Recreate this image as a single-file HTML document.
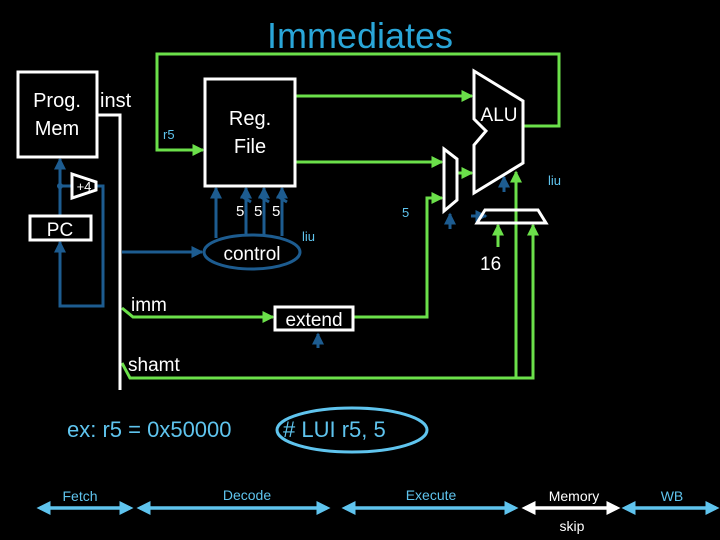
<!DOCTYPE html>
<html><head><style>
html,body{margin:0;padding:0;background:#000;}
svg{display:block;}
text{font-family:"Liberation Sans",sans-serif;}
</style></head><body>
<svg width="720" height="540" viewBox="0 0 720 540" xmlns="http://www.w3.org/2000/svg">
<defs>
<marker id="g" markerWidth="4" markerHeight="4" refX="3.5" refY="2" orient="auto" markerUnits="strokeWidth"><path d="M0,0 L4,2 L0,4 z" fill="#6be04a"/></marker>
<marker id="b" markerWidth="4" markerHeight="4" refX="3.5" refY="2" orient="auto" markerUnits="strokeWidth"><path d="M0,0 L4,2 L0,4 z" fill="#1d5c90"/></marker>
<marker id="lb" markerWidth="4" markerHeight="4" refX="3" refY="2" orient="auto-start-reverse" markerUnits="strokeWidth"><path d="M0,0 L4,2 L0,4 z" fill="#5fc4ee"/></marker>
<marker id="w" markerWidth="4" markerHeight="4" refX="3" refY="2" orient="auto-start-reverse" markerUnits="strokeWidth"><path d="M0,0 L4,2 L0,4 z" fill="#fff"/></marker>
</defs>
<text x="360" y="48" text-anchor="middle" font-size="36" fill="#2aa6d8">Immediates</text>

<!-- green wires -->
<g stroke="#6be04a" stroke-width="3" fill="none">
<polyline points="523,126 559,126 559,54 157,54 157,150 203,150" marker-end="url(#g)"/>
<polyline points="295,96 472,96" marker-end="url(#g)"/>
<polyline points="295,162 442,162" marker-end="url(#g)"/>
<polyline points="457,173 472,173" marker-end="url(#g)"/>
<polyline points="353,317 427,317 427,198 442,198" marker-end="url(#g)"/>
<polyline points="122,308 133,317 273,317" marker-end="url(#g)"/>
<polyline points="122,363 130,378 533,378 533,225" marker-end="url(#g)"/>
<polyline points="516,378 516,172" marker-end="url(#g)"/>
<polyline points="498,247 498,225" marker-end="url(#g)"/>
</g>

<!-- blue wires -->
<g stroke="#1d5c90" stroke-width="3" fill="none">
<polyline points="60,216 60,159" marker-end="url(#b)"/>
<polyline points="60,186 72,186"/>
<polyline points="96,186 103,186 103,306 60,306 60,242" marker-end="url(#b)"/>
<polyline points="122,252 202,252" marker-end="url(#b)"/>
<polyline points="216,238 216,188" marker-end="url(#b)"/>
<polyline points="246,236 246,188" marker-end="url(#b)"/>
<polyline points="264,235 264,188" marker-end="url(#b)"/>
<polyline points="282,236 282,188" marker-end="url(#b)"/>
<line x1="241" y1="196" x2="251" y2="202"/><line x1="259" y1="196" x2="269" y2="202"/><line x1="277" y1="196" x2="287" y2="202"/>
<polyline points="450,229 450,214" marker-end="url(#b)"/>
<polyline points="471,216 486,216" marker-end="url(#b)"/>
<polyline points="504,192 504,177" marker-end="url(#b)"/>
<polyline points="318,348 318,334" marker-end="url(#b)"/>
<ellipse cx="252" cy="252" rx="48" ry="17"/>
</g>
<circle cx="60" cy="186" r="3" fill="#1d5c90"/>

<!-- white stuff -->
<g stroke="#fff" stroke-width="3" fill="none">
<polyline points="97,115 120,115 120,390"/>
<rect x="18" y="72" width="79" height="85"/>
<rect x="205" y="79" width="90" height="107"/>
<rect x="30" y="216" width="61" height="24"/>
<rect x="275" y="307" width="78" height="23"/>
<polygon points="72,174 96,182 96,190 72,198"/>
<polygon points="474,71 523,101 523,163 474,193 474,145 486,131 474,119"/>
<polygon points="444,149 457,159 457,200 444,211"/>
<polygon points="485,210 538,210 546,223 477,223"/>
</g>
<g fill="#fff">
<text x="57" y="107" font-size="20" text-anchor="middle">Prog.</text>
<text x="57" y="135" font-size="20" text-anchor="middle">Mem</text>
<text x="100" y="107" font-size="20">inst</text>
<text x="250" y="125" font-size="20" text-anchor="middle">Reg.</text>
<text x="250" y="153" font-size="20" text-anchor="middle">File</text>
<text x="499" y="121" font-size="19" text-anchor="middle">ALU</text>
<text x="84" y="191" font-size="13" text-anchor="middle">+4</text>
<text x="60" y="236" font-size="19" text-anchor="middle">PC</text>
<text x="236" y="216" font-size="15">5</text><text x="254" y="216" font-size="15">5</text><text x="272" y="216" font-size="15">5</text>
<text x="252" y="260" font-size="19" text-anchor="middle">control</text>
<text x="131" y="311" font-size="19">imm</text>
<text x="314" y="326" font-size="19" text-anchor="middle">extend</text>
<text x="128" y="371" font-size="19">shamt</text>
<text x="480" y="270" font-size="19">16</text>
</g>
<g fill="#5fc4ee">
<text x="163" y="139" font-size="13">r5</text>
<text x="302" y="241" font-size="13">liu</text>
<text x="548" y="185" font-size="13">liu</text>
<text x="402" y="217" font-size="13">5</text>
<text x="67" y="437" font-size="22">ex: r5 = 0x50000</text>
<text x="283" y="437" font-size="22">#&#160;LUI r5, 5</text>
<text x="80" y="501" font-size="14" text-anchor="middle">Fetch</text>
<text x="247" y="500" font-size="14" text-anchor="middle">Decode</text>
<text x="431" y="500" font-size="14" text-anchor="middle">Execute</text>
<text x="672" y="501" font-size="14" text-anchor="middle">WB</text>
</g>
<ellipse cx="352" cy="430" rx="75" ry="22" stroke="#5fc4ee" stroke-width="3" fill="none"/>
<g stroke="#5fc4ee" stroke-width="3.5">
<line x1="40" y1="508" x2="130" y2="508" marker-start="url(#lb)" marker-end="url(#lb)"/>
<line x1="140" y1="508" x2="327" y2="508" marker-start="url(#lb)" marker-end="url(#lb)"/>
<line x1="345" y1="508" x2="515" y2="508" marker-start="url(#lb)" marker-end="url(#lb)"/>
<line x1="625" y1="508" x2="716" y2="508" marker-start="url(#lb)" marker-end="url(#lb)"/>
</g>
<line x1="525" y1="508" x2="617" y2="508" stroke="#fff" stroke-width="3.5" marker-start="url(#w)" marker-end="url(#w)"/>
<text x="574" y="501" font-size="14" fill="#fff" text-anchor="middle">Memory</text>
<text x="572" y="531" font-size="14" fill="#fff" text-anchor="middle">skip</text>
</svg>
</body></html>
